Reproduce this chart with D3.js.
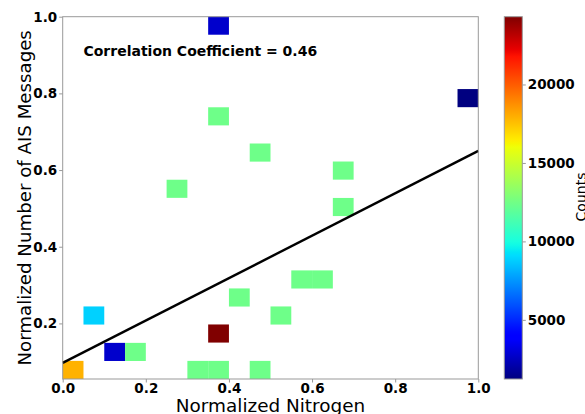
<!DOCTYPE html>
<html>
<head>
<meta charset="utf-8">
<script src="https://cdn.jsdelivr.net/npm/d3@7"></script>
<style>
  body { margin: 0; background: #fff; }
  svg text { font-family: "DejaVu Sans", sans-serif; }
</style>
</head>
<body>
<svg id="chart" width="585" height="414"></svg>
<script>
// 2d histogram cells: lower-left corner of each bin + count
const cellX = [0.35, 0.35, 0.45, 0.25, 0.95, 0.65, 0.65, 0.55, 0.60, 0.50, 0.40, 0.00, 0.05, 0.10, 0.15, 0.35, 0.30, 0.35, 0.45];
const cellY = [0.953, 0.7165, 0.622, 0.5275, 0.764, 0.575, 0.480, 0.291, 0.291, 0.197, 0.244, 0.055, 0.197, 0.102, 0.102, 0.150, 0.055, 0.055, 0.055];
const cellCount = [2750, 12400, 12400, 12400, 1230, 12400, 12400, 12400, 12400, 12400, 12400, 17900, 8850, 2750, 12400, 24320, 12400, 12400, 12400];
const binW = 0.05;
const binH = 0.04725;

// fitted line
const lineX = [0, 1];
const lineY = [0.097, 0.650];

const xTicks = [0, 0.2, 0.4, 0.6, 0.8, 1.0];
const yTicks = [0.2, 0.4, 0.6, 0.8, 1.0];
const cbTicks = [5000, 10000, 15000, 20000];
const countRange = [1230, 24320];

const svg = d3.select("#chart");
const mLeft = 62.7, mRight = 478.3, mTop = 16.7, mBottom = 379;

const x = d3.scaleLinear().domain([0, 1]).range([mLeft, mRight]);
const y = d3.scaleLinear().domain([0.055, 1.0]).range([mBottom, mTop]);

// matplotlib jet
const jetR = d3.scaleLinear().domain([0, 0.35, 0.66, 0.89, 1]).range([0, 0, 1, 1, 0.5]).clamp(true);
const jetG = d3.scaleLinear().domain([0, 0.125, 0.375, 0.64, 0.91, 1]).range([0, 0, 1, 1, 0, 0]).clamp(true);
const jetB = d3.scaleLinear().domain([0, 0.11, 0.34, 0.65, 1]).range([0.5, 1, 1, 0, 0]).clamp(true);
const norm = d3.scaleLinear().domain(countRange).range([0, 1]).clamp(true);
function jet(v) {
    const t = norm(v);
    return d3.rgb(jetR(t) * 255, jetG(t) * 255, jetB(t) * 255).formatHex();
}

// cells
const cells = cellX.map((cx, i) => ({x: cx, y: cellY[i], c: cellCount[i]}));
svg.append("g").selectAll("rect")
    .data(cells)
    .enter().append("rect")
    .attr("x", d => x(d.x))
    .attr("y", d => y(d.y + binH))
    .attr("width", d => x(d.x + binW) - x(d.x))
    .attr("height", d => y(d.y) - y(d.y + binH))
    .attr("fill", d => jet(d.c));

// regression line
svg.append("path")
    .datum(lineX.map((v, i) => [v, lineY[i]]))
    .attr("d", d3.line().x(d => x(d[0])).y(d => y(d[1])))
    .attr("fill", "none")
    .attr("stroke", "#000")
    .attr("stroke-width", 2.4);

// frame
svg.append("rect")
    .attr("x", mLeft).attr("y", mTop)
    .attr("width", mRight - mLeft).attr("height", mBottom - mTop)
    .attr("fill", "none").attr("stroke", "#999").attr("stroke-width", 1);

// axes
const xAxis = svg.append("g")
    .attr("transform", "translate(0," + mBottom + ")")
    .call(d3.axisBottom(x).tickValues(xTicks).tickFormat(d3.format(".1f")).tickSize(3.5).tickPadding(1));
const yAxis = svg.append("g")
    .attr("transform", "translate(" + mLeft + ",0)")
    .call(d3.axisLeft(y).tickValues(yTicks).tickFormat(d3.format(".1f")).tickSize(3.5).tickPadding(2));
[xAxis, yAxis].forEach(a => {
    a.select(".domain").remove();
    a.selectAll(".tick line").attr("stroke", "#999");
    a.selectAll("text")
        .attr("font-family", "DejaVu Sans")
        .attr("font-weight", "bold")
        .attr("font-size", "13.5px")
        .attr("fill", "#000");
});

// axis labels
svg.append("text")
    .attr("x", (mLeft + mRight) / 2)
    .attr("y", 411.5)
    .attr("text-anchor", "middle")
    .attr("font-size", "18.4px")
    .text("Normalized Nitrogen");

svg.append("text")
    .attr("transform", "translate(31," + (mTop + mBottom) / 2 + ") rotate(-90)")
    .attr("text-anchor", "middle")
    .attr("font-size", "18.2px")
    .text("Normalized Number of AIS Messages");

// annotation
svg.append("text")
    .attr("x", x(0.05))
    .attr("y", y(0.897))
    .attr("font-size", "14px")
    .attr("font-weight", "bold")
    .text("Correlation Coefficient = 0.46");

// colorbar
const cbLeft = 504.3, cbRight = 522.3;
const cbY = d3.scaleLinear().domain(countRange).range([mBottom, mTop]);
const defs = svg.append("defs");
const grad = defs.append("linearGradient")
    .attr("id", "jetgrad")
    .attr("x1", 0).attr("y1", 1).attr("x2", 0).attr("y2", 0);
d3.range(0, 1.0001, 0.01).forEach(t => {
    grad.append("stop")
        .attr("offset", t)
        .attr("stop-color", jet(norm.invert(t)));
});
svg.append("rect")
    .attr("x", cbLeft).attr("y", mTop)
    .attr("width", cbRight - cbLeft).attr("height", mBottom - mTop)
    .attr("fill", "url(#jetgrad)")
    .attr("stroke", "#999").attr("stroke-width", 1);

const cbAxis = svg.append("g")
    .attr("transform", "translate(" + cbRight + ",0)")
    .call(d3.axisRight(cbY).tickValues(cbTicks).tickFormat(d3.format("d")).tickSize(3.5).tickPadding(2));
cbAxis.select(".domain").remove();
cbAxis.selectAll(".tick line").attr("stroke", "#999");
cbAxis.selectAll("text")
    .attr("font-family", "DejaVu Sans")
    .attr("font-weight", "bold")
    .attr("font-size", "13.5px")
    .attr("fill", "#000");

// label runs off the right edge, as in the reference
svg.append("text")
    .attr("transform", "translate(586," + 197 + ") rotate(-90)")
    .attr("text-anchor", "middle")
    .attr("font-size", "14px")
    .text("Counts");
</script>
</body>
</html>
